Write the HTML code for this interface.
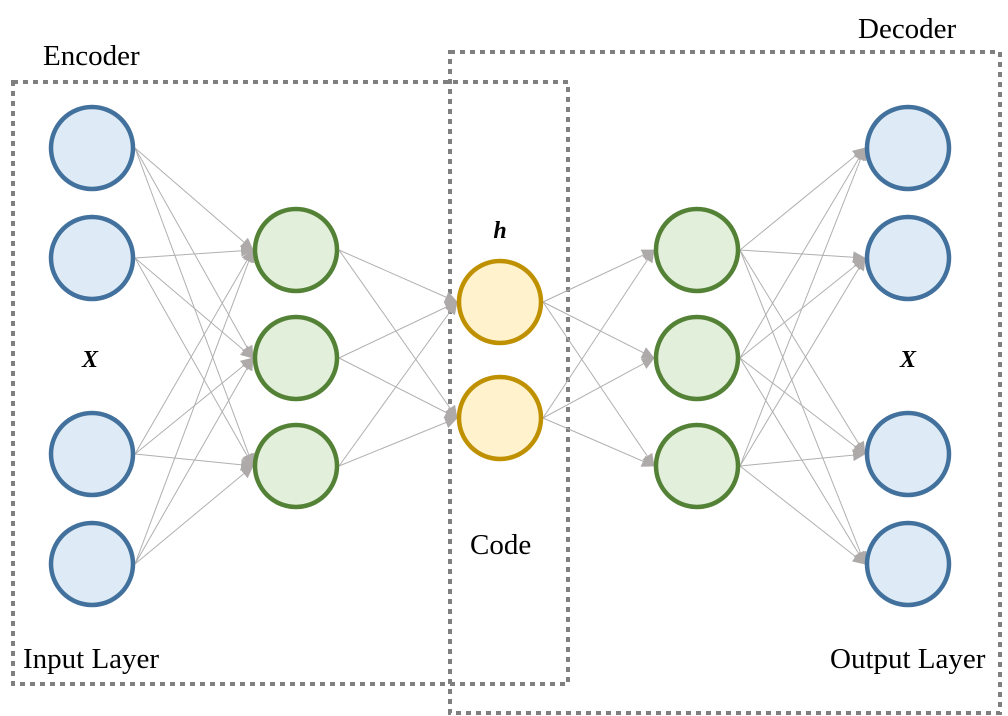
<!DOCTYPE html>
<html><head><meta charset="utf-8"><style>
html,body{margin:0;padding:0;background:#fff;}
svg{display:block;}
text{font-family:"Liberation Serif",serif;fill:#000;}
</style></head><body>
<svg id="s" width="1008" height="716" viewBox="0 0 1008 716" xmlns="http://www.w3.org/2000/svg">
<defs>
<marker id="a" markerWidth="14" markerHeight="14" refX="12" refY="6" orient="auto" markerUnits="userSpaceOnUse">
<path d="M0,0 L13,6 L0,12 Z" fill="#aeaaaa"/>
</marker>
</defs>
<rect x="13" y="82" width="555" height="602" fill="none" stroke="#7f7f7f" stroke-width="4" stroke-dasharray="5 5"/>
<rect x="450" y="52" width="550" height="661" fill="none" stroke="#7f7f7f" stroke-width="4" stroke-dasharray="5 5"/>
<g id="lines" stroke="#b0b0b0" stroke-width="1" fill="none"></g>
<g id="nodes"></g>
<text x="43" y="65" font-size="29">Encoder</text>
<text x="858" y="38" font-size="29">Decoder</text>
<text x="23" y="668" font-size="29">Input Layer</text>
<text x="830" y="668" font-size="29">Output Layer</text>
<text x="470" y="554" font-size="29">Code</text>
<text x="500" y="238" font-size="24" font-weight="bold" font-style="italic" text-anchor="middle">h</text>
<text x="90" y="367" font-size="24" font-weight="bold" font-style="italic" text-anchor="middle">X</text>
<text x="908" y="367" font-size="24" font-weight="bold" font-style="italic" text-anchor="middle">X</text>
</svg>
<script>
var NS="http://www.w3.org/2000/svg";
var R=41;
var layers=[
 {x:92,ys:[148,258,454,564],s:"#41719c",f:"#deebf7"},
 {x:296,ys:[250,358,466],s:"#538135",f:"#e2efda"},
 {x:500,ys:[302,418],s:"#bf9000",f:"#fff2cc"},
 {x:697,ys:[250,358,466],s:"#538135",f:"#e2efda"},
 {x:908,ys:[148,258,454,564],s:"#41719c",f:"#deebf7"}
];
var lg=document.getElementById("lines"),ng=document.getElementById("nodes");
for(var i=0;i<layers.length-1;i++){
 var A=layers[i],B=layers[i+1];
 A.ys.forEach(function(y1){B.ys.forEach(function(y2){
  var l=document.createElementNS(NS,"line");
  l.setAttribute("x1",A.x+R+2);l.setAttribute("y1",y1);
  l.setAttribute("x2",B.x-R-2);l.setAttribute("y2",y2);
  l.setAttribute("marker-end","url(#a)");
  lg.appendChild(l);
 });});
}
layers.forEach(function(L){L.ys.forEach(function(y){
 var c=document.createElementNS(NS,"circle");
 c.setAttribute("cx",L.x);c.setAttribute("cy",y);c.setAttribute("r",R);
 c.setAttribute("fill",L.f);c.setAttribute("stroke",L.s);c.setAttribute("stroke-width",4.5);
 ng.appendChild(c);
});});
</script>
</body></html>
